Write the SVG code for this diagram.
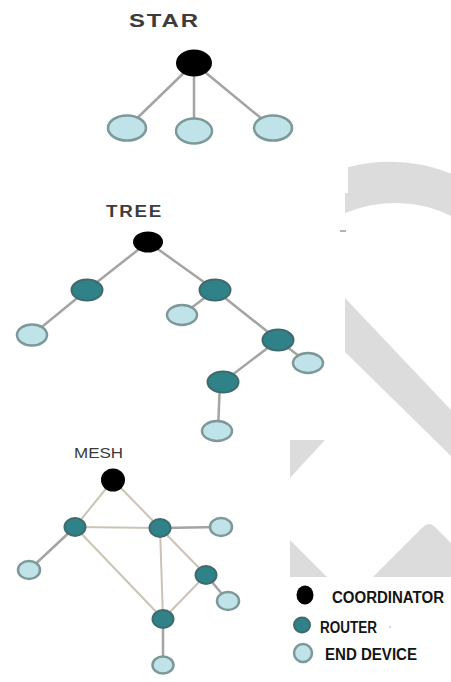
<svg xmlns="http://www.w3.org/2000/svg" width="451" height="682" viewBox="0 0 451 682">
  <defs>
    <style>
      .title { font-family: "Liberation Sans", Arial, sans-serif; font-weight: bold; fill: #3c3c3c; }
      .title-light { font-family: "Liberation Sans", Arial, sans-serif; font-weight: normal; fill: #3a3a3a; }
      .legend { font-family: "Liberation Sans", Arial, sans-serif; font-weight: bold; fill: #141414; font-size: 16px; }
      .coord { fill: #000000; }
      .router { fill: #2e8288; stroke: #3f6a6e; stroke-width: 2; }
      .end { fill: #bfe3e8; stroke: #7d9898; stroke-width: 2.5; }
      .link { stroke: #a4a4a4; stroke-width: 2.5; stroke-linecap: round; fill: none; }
      .mlink { stroke: #cbc4b6; stroke-width: 2; stroke-linecap: round; fill: none; }
      .mark { fill: #dcdcdc; }
    </style>
  </defs>

  <rect x="0" y="0" width="451" height="682" fill="#ffffff"/>

  <!-- background grey mark -->
  <g id="background-mark">
    <path class="mark" d="M348,167.3 A168,168 0 0,1 451,173.5 L451,216 A127,127 0 0,0 345,213.3 L345,193 L348,193 Z"/>
    <polygon class="mark" points="345,298 451,410 451,456 345,352"/>
    <polygon class="mark" points="290,440 325,440 290,478"/>
    <polygon class="mark" points="290,540 327,577 290,577"/>
    <path class="mark" d="M373,577 L423,527 Q429,521 435,527 L451,543 L451,577 Z"/>
    <line x1="340" y1="231" x2="346" y2="231" stroke="#9a9a9a" stroke-width="1.5"/>
  </g>

  <!-- titles -->
  <text class="title" x="129" y="27" font-size="19" letter-spacing="1.5" textLength="71" lengthAdjust="spacingAndGlyphs">STAR</text>
  <text class="title" x="106" y="217" font-size="16" letter-spacing="1.5" textLength="57" lengthAdjust="spacingAndGlyphs">TREE</text>
  <text class="title-light" x="74" y="458" font-size="15" textLength="49" lengthAdjust="spacingAndGlyphs">MESH</text>

  <!-- connectors -->
  <g id="connectors">
    <!-- star -->
    <line class="link" x1="194" y1="63" x2="127" y2="128" stroke-width="3"/>
    <line class="link" x1="194" y1="63" x2="194" y2="131" stroke-width="5"/>
    <line class="link" x1="194" y1="63" x2="273" y2="128" stroke-width="3"/>
    <!-- tree -->
    <line class="link" x1="148" y1="242" x2="87" y2="290"/>
    <line class="link" x1="148" y1="242" x2="215" y2="290"/>
    <line class="link" x1="87" y1="290" x2="32" y2="335"/>
    <line class="link" x1="215" y1="290" x2="182" y2="315"/>
    <line class="link" x1="215" y1="290" x2="278" y2="340"/>
    <line class="link" x1="278" y1="340" x2="308" y2="363"/>
    <line class="link" x1="278" y1="340" x2="223" y2="382"/>
    <line class="link" x1="220" y1="382" x2="218" y2="430" stroke-width="4"/>
    <!-- mesh -->
    <line class="mlink" x1="113" y1="480" x2="75" y2="527"/>
    <line class="mlink" x1="113" y1="480" x2="160" y2="528"/>
    <line class="mlink" x1="75" y1="527" x2="160" y2="528"/>
    <line class="link" x1="160" y1="528" x2="221" y2="527" stroke="#8e8e8e" stroke-width="2"/>
    <line class="link" x1="75" y1="527" x2="29" y2="570" stroke="#a0a0a0" stroke-width="2"/>
    <line class="mlink" x1="75" y1="527" x2="163" y2="619"/>
    <line class="mlink" x1="160" y1="528" x2="163" y2="619"/>
    <line class="mlink" x1="160" y1="528" x2="206" y2="575"/>
    <line class="mlink" x1="206" y1="575" x2="163" y2="619"/>
    <line class="link" x1="206" y1="575" x2="228" y2="601" stroke="#9a9a9a" stroke-width="2"/>
    <line class="link" x1="163" y1="619" x2="163" y2="665" stroke="#9a9a9a" stroke-width="3"/>
  </g>

  <!-- star nodes -->
  <g id="star-coordinator"><ellipse class="coord" cx="194" cy="63" rx="18" ry="13.5"/></g>
  <g id="star-end-1"><ellipse class="end" cx="127" cy="128" rx="19" ry="12.5" stroke-width="3"/></g>
  <g id="star-end-2"><ellipse class="end" cx="194" cy="131" rx="18" ry="12.5" stroke-width="3"/></g>
  <g id="star-end-3"><ellipse class="end" cx="273" cy="128" rx="19" ry="12.5" stroke-width="3"/></g>

  <!-- tree nodes -->
  <g id="tree-coordinator"><ellipse class="coord" cx="148" cy="242" rx="15" ry="10.5"/></g>
  <g id="tree-router-1"><ellipse class="router" cx="87" cy="290" rx="15.5" ry="10.5"/></g>
  <g id="tree-router-2"><ellipse class="router" cx="215" cy="290" rx="15.5" ry="10.5"/></g>
  <g id="tree-router-3"><ellipse class="router" cx="278" cy="340" rx="15.5" ry="10.5"/></g>
  <g id="tree-router-4"><ellipse class="router" cx="223" cy="382" rx="15.5" ry="10.5"/></g>
  <g id="tree-end-1"><ellipse class="end" cx="32" cy="335" rx="15" ry="10.5"/></g>
  <g id="tree-end-2"><ellipse class="end" cx="182" cy="315" rx="15" ry="10"/></g>
  <g id="tree-end-3"><ellipse class="end" cx="308" cy="363" rx="15" ry="10"/></g>
  <g id="tree-end-4"><ellipse class="end" cx="217" cy="431" rx="15" ry="10"/></g>

  <!-- mesh nodes -->
  <g id="mesh-coordinator"><ellipse class="coord" cx="113" cy="480" rx="12" ry="11.5"/></g>
  <g id="mesh-router-a"><ellipse class="router" cx="75" cy="527" rx="10.5" ry="9"/></g>
  <g id="mesh-router-b"><ellipse class="router" cx="160" cy="528" rx="10.5" ry="9"/></g>
  <g id="mesh-router-e"><ellipse class="router" cx="206" cy="575" rx="10.5" ry="9"/></g>
  <g id="mesh-router-g"><ellipse class="router" cx="163" cy="619" rx="10.5" ry="9"/></g>
  <g id="mesh-end-c"><ellipse class="end" cx="221" cy="527" rx="11" ry="9" stroke-width="2"/></g>
  <g id="mesh-end-d"><ellipse class="end" cx="29" cy="570" rx="11" ry="9" stroke-width="2"/></g>
  <g id="mesh-end-f"><ellipse class="end" cx="228" cy="601" rx="11" ry="9" stroke-width="2"/></g>
  <g id="mesh-end-h"><ellipse class="end" cx="163" cy="665" rx="10.5" ry="8.5" stroke-width="2"/></g>

  <!-- legend -->
  <g id="legend-coordinator">
    <ellipse class="coord" cx="305" cy="595" rx="8.5" ry="9.5"/>
    <text class="legend" x="332" y="603" textLength="112" lengthAdjust="spacingAndGlyphs">COORDINATOR</text>
  </g>
  <g id="legend-router">
    <ellipse class="router" cx="302" cy="625" rx="8" ry="7.5"/>
    <text class="legend" x="320" y="633" textLength="57" lengthAdjust="spacingAndGlyphs">ROUTER</text>
    <circle cx="390" cy="627" r="1" fill="#c8c8c8"/>
  </g>
  <g id="legend-end-device">
    <ellipse class="end" cx="303" cy="653" rx="9" ry="9" stroke-width="1.5"/>
    <text class="legend" x="325" y="660" textLength="92" lengthAdjust="spacingAndGlyphs">END DEVICE</text>
  </g>
</svg>
